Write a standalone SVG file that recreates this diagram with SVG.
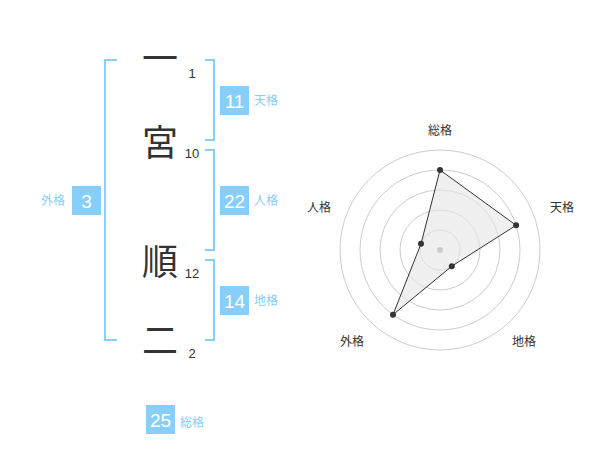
<svg xmlns="http://www.w3.org/2000/svg" width="600" height="470" viewBox="0 0 600 470">
<style>
.ch{font-family:"Noto Sans CJK JP","Noto Sans",sans-serif;font-size:36px;fill:#333;text-anchor:middle}
.st{font-family:"Liberation Sans",Arial,sans-serif;font-size:13px;fill:#333;text-anchor:middle}
.bx{fill:#87cefa}
.bn{font-family:"Liberation Sans",Arial,sans-serif;font-size:19px;fill:#fff;text-anchor:middle}
.lb{font-family:"Noto Sans CJK JP",sans-serif;font-size:12px;fill:#87cefa}
.br{fill:none;stroke:#87cefa;stroke-width:2}
.ring{fill:none;stroke:#ccc;stroke-width:1}
.rl{font-family:"Noto Sans CJK JP",sans-serif;font-size:12px;fill:#333;text-anchor:middle}
.dot{fill:#333}
</style>
<rect width="600" height="470" fill="#fff"/>
<g id="chars">
<text class="ch" x="160" y="71.5">一</text>
<text class="ch" x="160" y="155.5">宮</text>
<text class="ch" x="160" y="274.5">順</text>
<text class="ch" x="160" y="353.5">二</text>
</g>
<g id="strokes">
<text class="st" x="192" y="78">1</text>
<text class="st" x="192" y="158">10</text>
<text class="st" x="192" y="278">12</text>
<text class="st" x="192" y="358">2</text>
</g>
<g id="connectors">
<path class="br" d="M117,60 H105 V340 H117"/>
<path class="br" d="M205,60 H214 V140 H205"/>
<path class="br" d="M205,150 H214 V250 H205"/>
<path class="br" d="M205,260 H214 V340 H205"/>
</g>
<g id="tenkaku">
<rect class="bx" x="220" y="86" width="29" height="29"/>
<text class="bn" x="234.5" y="107.5">11</text>
<text class="lb" x="254" y="105">天格</text>
</g>
<g id="jinkaku">
<rect class="bx" x="220" y="186" width="29" height="29"/>
<text class="bn" x="234.5" y="207.5">22</text>
<text class="lb" x="254" y="205">人格</text>
</g>
<g id="chikaku">
<rect class="bx" x="220" y="286" width="29" height="29"/>
<text class="bn" x="234.5" y="307.5">14</text>
<text class="lb" x="254" y="305">地格</text>
</g>
<g id="gaikaku">
<rect class="bx" x="72" y="186" width="29" height="29"/>
<text class="bn" x="86.5" y="207.5">3</text>
<text class="lb" x="41" y="205">外格</text>
</g>
<g id="soukaku">
<rect class="bx" x="146" y="405" width="29" height="29"/>
<text class="bn" x="160.5" y="426.5">25</text>
<text class="lb" x="180" y="427">総格</text>
</g>
<g id="radar">
<circle class="ring" cx="440" cy="250" r="20"/>
<circle class="ring" cx="440" cy="250" r="40"/>
<circle class="ring" cx="440" cy="250" r="60"/>
<circle class="ring" cx="440" cy="250" r="80"/>
<circle class="ring" cx="440" cy="250" r="100"/>
<polygon points="440,170 516.1,225.3 451.8,266.2 393,314.7 421,243.8" fill="#e6e6e6" fill-opacity="0.6" stroke="#333" stroke-width="1"/>
<circle cx="440" cy="250" r="3" fill="#ccc"/>
<circle class="dot" cx="440" cy="170" r="3"/>
<circle class="dot" cx="516.1" cy="225.3" r="3"/>
<circle class="dot" cx="451.8" cy="266.2" r="3"/>
<circle class="dot" cx="393" cy="314.7" r="3"/>
<circle class="dot" cx="421" cy="243.8" r="3"/>
<text class="rl" x="440" y="135">総格</text>
<text class="rl" x="562" y="212">天格</text>
<text class="rl" x="524" y="346">地格</text>
<text class="rl" x="352" y="346">外格</text>
<text class="rl" x="319" y="212">人格</text>
</g>
</svg>
